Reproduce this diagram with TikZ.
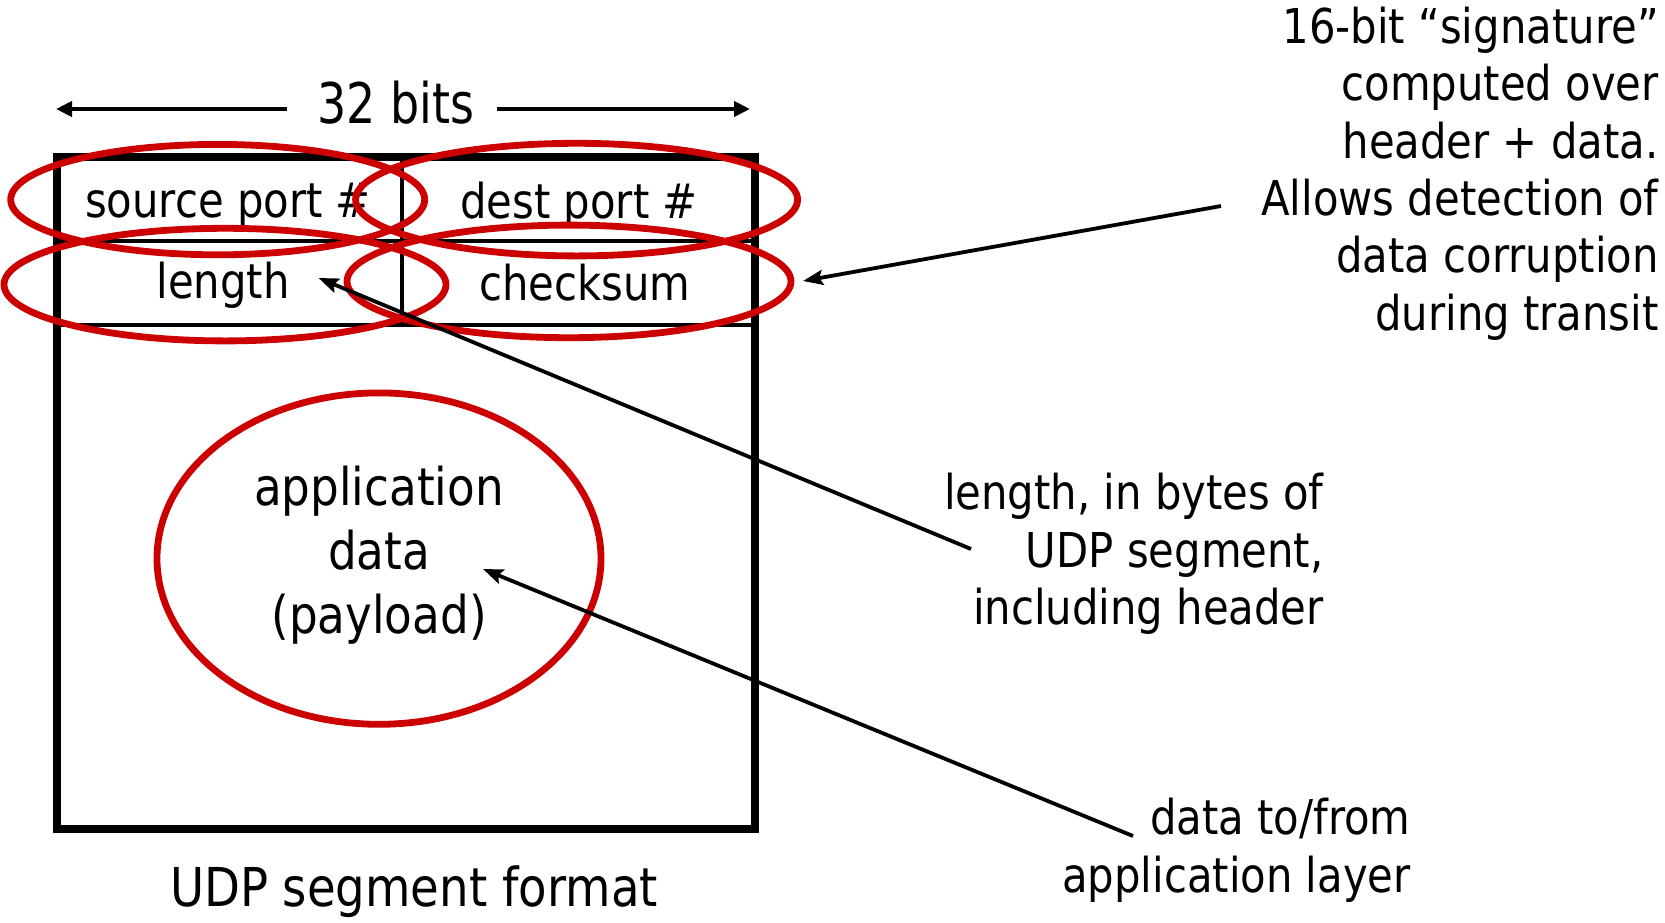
\documentclass[tikz,border=0pt]{standalone}
\usepackage{fontspec}
\setmainfont{DejaVu Sans}[FakeStretch=0.87]
\newfontfamily\bitsfont{DejaVu Sans}[FakeStretch=0.82]
\usetikzlibrary{arrows.meta,shapes.geometric}
\definecolor{ringred}{HTML}{CC0000}
\definecolor{ink}{HTML}{000000}
\tikzset{
  frame/.style={draw=ink, line width=4.2pt},
  divider/.style={draw=ink, line width=2.4pt},
  ring/.style={ellipse, draw=ringred, line width=3.4pt, inner sep=0pt},
  field/.style={inner sep=0pt, font=\fontsize{24}{28.75}\selectfont},
  note/.style={inner sep=0pt, align=right, font=\fontsize{24}{28.75}\selectfont},
  pointer/.style={-{Stealth[length=10pt,width=7.5pt,inset=1.8pt]}, line width=1.9pt, draw=ink},
  span/.style={-{Triangle[length=8pt,width=7.5pt]}, line width=2.4pt, draw=ink}
}

\begin{document}
\begin{tikzpicture}[x=0.5pt, y=-0.5pt]
  \useasboundingbox (0,0) rectangle (1665,922);

  % segment layout
  \draw[frame] (57,157) rectangle (755,829);
  \draw[divider] (57,241) -- (755,241);
  \draw[divider] (57,325) -- (755,325);
  \draw[divider] (402,157) -- (402,325);

  \node[inner sep=0pt, font=\bitsfont\fontsize{28}{32}\selectfont] (bits) at (396,103) {32 bits};
  \coordinate (spanleft) at (56,109);
  \coordinate (spanright) at (750,109);
  \draw[span] ([xshift=-15pt]bits.west |- spanleft) -- (spanleft);
  \draw[span] ([xshift=11pt]bits.east |- spanright) -- (spanright);

  \node[field] (srcport) at (228,205) {source port \#};
  \node[field] (dstport) at (579,205) {dest port \#};
  \node[field] (len) at (223,285) {length};
  \node[field] (chksum) at (585,283) {checksum};
  \node[inner sep=0pt, align=center, font=\fontsize{26}{32}\selectfont] (payload) at (379,555)
    {application\\data\\(payload)};
  \node[inner sep=0pt, font=\fontsize{26.8}{32}\selectfont] (caption) at (414,892) {UDP segment format};

  % highlighted fields
  \node[ring, minimum width=207pt, minimum height=55.2pt] (srcring) at (217.7,199.6) {};
  \node[ring, minimum width=221pt, minimum height=56.3pt] (dstring) at (576.6,199.6) {};
  \node[ring, minimum width=221pt, minimum height=56.3pt] (lenring) at (225,284.6) {};
  \node[ring, minimum width=222pt, minimum height=56.3pt] (chkring) at (569,281.4) {};
  \node[ring, minimum width=222pt, minimum height=165.7pt] (appring) at (379,558.6) {};

  % side notes
  \node[note, anchor=east] (signote) at (1659,173.5)
    {16-bit “signature”\\computed over\\header + data.\\Allows detection of\\data corruption\\during transit};
  \node[note, anchor=east] (lennote) at (1324,554)
    {length, in bytes of\\UDP segment,\\including header};
  \node[note, anchor=east] (appnote) at (1411,850)
    {data to/from\\application layer};

  \coordinate (sigfoot) at (1221,206);
  \coordinate (lenfoot) at (971,549);
  \coordinate (appfoot) at (1133,836);
  \coordinate (chktip) at (803,281);
  \coordinate (lentip) at (318.6,278);
  \coordinate (apptip) at (483,569);
  \draw[pointer] (sigfoot) -- (chktip);
  \draw[pointer] (lenfoot) -- (lentip);
  \draw[pointer] (appfoot) -- (apptip);
\end{tikzpicture}
\end{document}
